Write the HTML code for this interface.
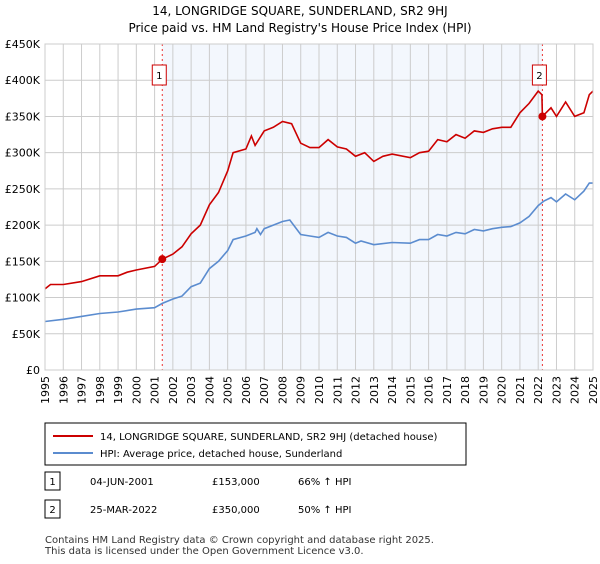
<!DOCTYPE html>
<html><head><meta charset="utf-8"><style>
body{margin:0;background:#fff;font-family:"DejaVu Sans","Liberation Sans",sans-serif;}
svg text{font-family:"DejaVu Sans","Liberation Sans",sans-serif;}
</style></head><body>
<svg width="600" height="560" xmlns="http://www.w3.org/2000/svg">
<text x="300" y="15" text-anchor="middle" font-size="12">14, LONGRIDGE SQUARE, SUNDERLAND, SR2 9HJ</text>
<text x="300" y="32" text-anchor="middle" font-size="12">Price paid vs. HM Land Registry's House Price Index (HPI)</text>
<g id="plot"></g>
<g>
<rect x="45" y="423" width="421" height="42" fill="#fff" stroke="#000"/>
<line x1="53" y1="436" x2="93" y2="436" stroke="#cc0000" stroke-width="2"/>
<text x="100" y="440" font-size="10">14, LONGRIDGE SQUARE, SUNDERLAND, SR2 9HJ (detached house)</text>
<line x1="53" y1="453" x2="93" y2="453" stroke="#5b8ccf" stroke-width="2"/>
<text x="100" y="457" font-size="10">HPI: Average price, detached house, Sunderland</text>
</g>
<g font-size="10">
<rect x="45" y="472" width="15" height="18" fill="#fff" stroke="#000"/>
<text x="52.5" y="485" text-anchor="middle">1</text>
<text x="90" y="485">04-JUN-2001</text>
<text x="212" y="485">£153,000</text>
<text x="298" y="485">66% ↑ HPI</text>
<rect x="45" y="500" width="15" height="18" fill="#fff" stroke="#000"/>
<text x="52.5" y="513" text-anchor="middle">2</text>
<text x="90" y="513">25-MAR-2022</text>
<text x="212" y="513">£350,000</text>
<text x="298" y="513">50% ↑ HPI</text>
</g>
<text x="45" y="543" font-size="10" fill="#333">Contains HM Land Registry data © Crown copyright and database right 2025.</text>
<text x="45" y="554" font-size="10" fill="#333">This data is licensed under the Open Government Licence v3.0.</text>
</svg>
<script>
const hpiYears=[1995,1996,1997,1998,1999,2000,2001,2001.42,2002,2002.5,2003,2003.5,2004,2004.5,2005,2005.3,2006,2006.5,2006.6,2006.8,2007,2007.5,2008,2008.4,2009,2009.5,2010,2010.5,2011,2011.5,2012,2012.3,2013,2014,2015,2015.5,2016,2016.5,2017,2017.5,2018,2018.5,2019,2019.5,2020,2020.5,2021,2021.5,2022,2022.3,2022.7,2023,2023.5,2024,2024.5,2024.8,2025];
const hpiValues=[67,70,74,78,80,84,86,92,98,102,115,120,140,150,165,180,185,190,195,187,195,200,205,207,187,185,183,190,185,183,175,178,173,176,175,180,180,187,185,190,188,194,192,195,197,198,203,212,227,233,238,232,243,235,247,258,258];
const priceYears=[1995,1995.3,1996,1997,1998,1999,1999.5,2000,2001,2001.42,2002,2002.5,2003,2003.5,2004,2004.5,2005,2005.3,2006,2006.3,2006.5,2007,2007.5,2008,2008.5,2009,2009.5,2010,2010.5,2011,2011.5,2012,2012.5,2013,2013.5,2014,2015,2015.5,2016,2016.5,2017,2017.5,2018,2018.5,2019,2019.5,2020,2020.5,2021,2021.5,2022,2022.2,2022.23,2022.7,2023,2023.5,2024,2024.5,2024.8,2025];
const priceValues=[112,118,118,122,130,130,135,138,143,153,160,170,188,200,228,245,275,300,305,323,310,330,335,343,340,313,307,307,318,308,305,295,300,288,295,298,293,300,302,318,315,325,320,330,328,333,335,335,355,368,385,380,350,362,350,370,350,355,380,385];
const saleYears=[2001.42,2022.23];
const saleValues=[153,350];
const saleLabels=["1","2"];
const yTicks=[0,50,100,150,200,250,300,350,400,450];
const yTickLabels=["£0","£50K","£100K","£150K","£200K","£250K","£300K","£350K","£400K","£450K"];
const xTicks=[1995,1996,1997,1998,1999,2000,2001,2002,2003,2004,2005,2006,2007,2008,2009,2010,2011,2012,2013,2014,2015,2016,2017,2018,2019,2020,2021,2022,2023,2024,2025];

const L=45,R=593,T=44,B=370,NS="http://www.w3.org/2000/svg";
const xs=y=>L+(y-1995)/30*(R-L);
const ys=v=>B-v/450*(B-T);
const plot=document.getElementById('plot');
function mk(tag,attrs,parent){const e=document.createElementNS(NS,tag);for(const k in attrs)e.setAttribute(k,attrs[k]);(parent||plot).appendChild(e);return e;}
let e=mk('rect',{x:L,y:T,width:R-L,height:B-T,fill:'#fff'});


e=mk('rect',{x:xs(saleYears[0]),y:T,width:xs(saleYears[1])-xs(saleYears[0]),height:B-T,fill:'#eef3fc',opacity:0.7});


xTicks.forEach((t,i)=>{
 let g=mk('line',{x1:xs(t),x2:xs(t),y1:T,y2:B,stroke:'#ccc','stroke-width':1});
 
 
 let tx=mk('text',{x:0,y:0,'font-size':11,'text-anchor':'end',transform:`translate(${xs(t)+4},${B+6}) rotate(-90)`});
 tx.textContent=t;
 
 
});
yTicks.forEach((t,i)=>{
 let g=mk('line',{x1:L,x2:R,y1:ys(t),y2:ys(t),stroke:'#ccc','stroke-width':1});
 
 
 let tx=mk('text',{x:L-5,y:ys(t)+4,'font-size':11,'text-anchor':'end'});
 tx.textContent=yTickLabels[i];
 
 
});
saleYears.forEach((s,i)=>{
 let v=mk('line',{x1:xs(s),x2:xs(s),y1:T,y2:B,stroke:'#e33','stroke-width':1,'stroke-dasharray':'2,3'});
 
 
});
function path(xa,va,color,name){
 const d=xa.map((x,i)=>(i?'L':'M')+xs(x).toFixed(1)+','+ys(va[i]).toFixed(1)).join('');
 let p=mk('path',{d:d,fill:'none',stroke:color,'stroke-width':1.6});
 
 
}
path(hpiYears,hpiValues,'#5b8ccf','hpi-line');
path(priceYears,priceValues,'#cc0000','price-line');
saleYears.forEach((s,i)=>{
 let c=mk('circle',{cx:xs(s),cy:ys(saleValues[i]),r:4,fill:'#cc0000'});
 
 
 let b=mk('rect',{x:xs(s)-3-7,y:65,width:14,height:20,fill:'#fff',stroke:'#cc0000'});
 
 
 let t=mk('text',{x:xs(s)-3,y:79,'font-size':10,'text-anchor':'middle'});
 t.textContent=saleLabels[i];
 
 
});
e=mk('rect',{x:L,y:T,width:R-L,height:B-T,fill:'none',stroke:'#ccc'});


</script>
</body></html>
